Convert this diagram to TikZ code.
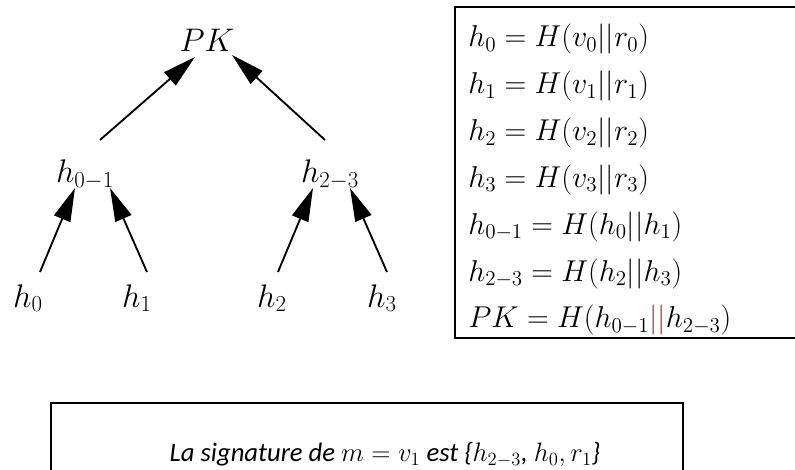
\RequirePackage{fix-cm}
\documentclass[tikz,border=0pt]{standalone}
\usepackage{fontspec}
\newfontfamily\calib{Carlito}
\usetikzlibrary{arrows.meta}
\definecolor{pipe}{RGB}{150,60,40}
\begin{document}
\begin{tikzpicture}[x=0.75pt,y=-0.75pt,
  lbl/.style={inner sep=0pt,anchor=base,font=\fontsize{24.5}{29}\selectfont},
  eq/.style={inner sep=0pt,anchor=base west,font=\fontsize{22.6}{27}\selectfont},
  arr/.style={line width=1.4pt,-{Triangle[length=25pt,width=13pt]}},
  frame/.style={line width=1.5pt}]
\useasboundingbox (0,0) rectangle (795,470);
\clip (0,0) rectangle (795,470);
% tree
\node[lbl] (pk) at (207,52) {$PK$};
\node[lbl] (h01) at (85,183) {$h_{0-1}$};
\node[lbl] (h23) at (330,183) {$h_{2-3}$};
\node[lbl] (h0) at (28,307) {$h_0$};
\node[lbl] (h1) at (137,307) {$h_1$};
\node[lbl] (h2) at (272,307) {$h_2$};
\node[lbl] (h3) at (382,307) {$h_3$};
\coordinate (s01) at (100,140); \coordinate (t01) at (195,57);
\coordinate (s23) at (325,140); \coordinate (t23) at (232,55);
\coordinate (s0) at (40,272);  \coordinate (t0) at (75,188);
\coordinate (s1) at (147,272); \coordinate (t1) at (110,188);
\coordinate (s2) at (278,272); \coordinate (t2) at (313,188);
\coordinate (s3) at (387,272); \coordinate (t3) at (350,188);
\draw[arr] (s01) -- (t01);
\draw[arr] (s23) -- (t23);
\draw[arr] (s0) -- (t0);
\draw[arr] (s1) -- (t1);
\draw[arr] (s2) -- (t2);
\draw[arr] (s3) -- (t3);
% equations box
\draw[frame] (810,7) -- (455,7) -- (455,338) -- (810,338);
\node[eq] (e0) at (468,47.0) {$h_0=H(v_0||r_0)$};
\node[eq] (e1) at (468,93.8) {$h_1=H(v_1||r_1)$};
\node[eq] (e2) at (468,140.6) {$h_2=H(v_2||r_2)$};
\node[eq] (e3) at (468,187.4) {$h_3=H(v_3||r_3)$};
\node[eq] (e4) at (468,234.2) {$h_{0-1}=H(h_0||h_1)$};
\node[eq] (e5) at (468,281.0) {$h_{2-3}=H(h_2||h_3)$};
\node[eq] (e6) at (468,327.8) {$PK=H(h_{0-1}{\color{pipe}||}h_{2-3})$};
% signature box
\draw[frame] (51,480) -- (51,403) -- (683,403) -- (683,480);
\node[inner sep=0pt,font=\calib\itshape\fontsize{20}{24}\selectfont] (sig) at (385,455)
  {La signature de $m=v_1$ est \{$h_{2-3}$, $h_0,r_1$\}};
\end{tikzpicture}
\end{document}
